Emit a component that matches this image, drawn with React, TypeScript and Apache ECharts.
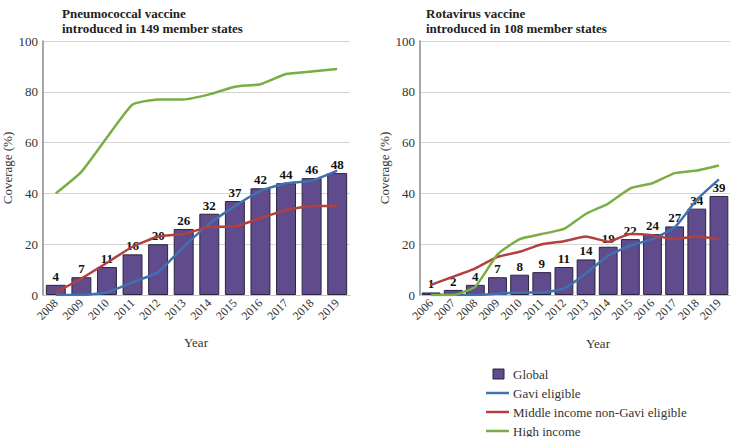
import React, { useEffect, useRef } from "react";
import * as echarts from "echarts";

const pcvYears = ["2008", "2009", "2010", "2011", "2012", "2013", "2014", "2015", "2016", "2017", "2018", "2019"];
const pcvGlobal = [4, 7, 11, 16, 20, 26, 32, 37, 42, 44, 46, 48];
const pcvGavi = [0, 0, 1, 5, 9, 19, 28, 35, 41, 44, 45, 49];
const pcvMiddle = [1, 6.5, 12.7, 19, 23, 24, 26.8, 27, 30.3, 33.5, 35, 35];
const pcvHigh = [40, 48.5, 62, 75, 77, 77, 79, 82, 83, 87, 88, 89];

const rotaYears = ["2006", "2007", "2008", "2009", "2010", "2011", "2012", "2013", "2014", "2015", "2016", "2017", "2018", "2019"];
const rotaGlobal = [1, 2, 4, 7, 8, 9, 11, 14, 19, 22, 24, 27, 34, 39];
const rotaGavi = [0, 0, 0, 0.5, 1, 1, 2.6, 8.5, 15.5, 19.5, 22, 26.6, 37.5, 45.5];
const rotaMiddle = [4, 7.2, 10.5, 15, 17, 20, 21.2, 23, 21, 24, 23.5, 22, 23, 22];
const rotaHigh = [0, 0, 3.3, 16, 22, 24, 26, 32, 36, 42, 44, 48, 49, 51];

const yTicks = [0, 20, 40, 60, 80, 100];

const FONT = "Liberation Serif";
const PURPLE = "#604b8d";
const BLUE = "#3f70b1";
const RED = "#b1403e";
const GREEN = "#79ad45";

const legendItems = [
  { name: "Global", kind: "bar", color: PURPLE },
  { name: "Gavi eligible", kind: "line", color: BLUE },
  { name: "Middle income non-Gavi eligible", kind: "line", color: RED },
  { name: "High income", kind: "line", color: GREEN },
];

export default function App() {
  const ref = useRef<HTMLDivElement>(null);
  useEffect(() => {
    if (!ref.current) return;
    const chart = echarts.init(ref.current, undefined, { renderer: "svg" });

    const mkX = (data: string[], gridIndex: number) => ({
      type: "category",
      gridIndex,
      data,
      axisTick: { show: false },
      axisLine: { show: true, lineStyle: { color: "#c4c4c4" } },
      axisLabel: { rotate: 45, fontFamily: FONT, fontSize: 12, color: "#333", margin: 6, interval: 0 },
    });
    const mkY = (gridIndex: number) => ({
      type: "value",
      gridIndex,
      min: yTicks[0],
      max: yTicks[yTicks.length - 1],
      interval: 20,
      name: "Coverage (%)",
      nameLocation: "middle",
      nameGap: 29,
      nameTextStyle: { fontFamily: FONT, fontSize: 13, color: "#333" },
      axisLine: { show: true, lineStyle: { color: "#8a8a8a", width: 1.5 } },
      axisTick: { show: false },
      axisLabel: { fontFamily: FONT, fontSize: 13, color: "#333", margin: 5 },
      splitLine: { lineStyle: { color: "#d4d4d4" } },
    });
    const mkBar = (data: number[], idx: number, gap: string) => ({
      type: "bar",
      name: "Global",
      xAxisIndex: idx,
      yAxisIndex: idx,
      data,
      barCategoryGap: gap,
      itemStyle: { color: PURPLE, borderColor: "#2b2540", borderWidth: 1 },
      label: { show: true, position: "top", distance: 2, fontFamily: FONT, fontSize: 13, fontWeight: "bold", color: "#111" },
    });
    const mkLine = (name: string, data: number[], idx: number, color: string) => ({
      type: "line",
      name,
      xAxisIndex: idx,
      yAxisIndex: idx,
      data,
      smooth: 0.15,
      symbol: "none",
      lineStyle: { color, width: 2.5 },
      itemStyle: { color },
    });

    const graphics: any[] = [
      { type: "text", x: 196, y: 342, style: { text: "Year", fontFamily: FONT, fontSize: 13, fill: "#333", align: "center", verticalAlign: "middle" } },
      { type: "text", x: 598, y: 343, style: { text: "Year", fontFamily: FONT, fontSize: 13, fill: "#333", align: "center", verticalAlign: "middle" } },
    ];
    legendItems.forEach((it, i) => {
      const cy = [374, 393, 412, 431][i];
      if (it.kind === "bar") {
        graphics.push({ type: "rect", shape: { x: 493, y: cy - 5, width: 11, height: 10 }, style: { fill: it.color, stroke: "#2b2540", lineWidth: 1 } });
      } else {
        graphics.push({ type: "line", shape: { x1: 486, y1: cy, x2: 509, y2: cy }, style: { stroke: it.color, lineWidth: 2.5 } });
      }
      graphics.push({ type: "text", x: 513, y: cy, style: { text: it.name, fontFamily: FONT, fontSize: 13, fill: "#333", verticalAlign: "middle" } });
    });

    chart.setOption({
      animation: false,
      backgroundColor: "#fff",
      title: [
        { text: "Pneumococcal vaccine\nintroduced in 149 member states", left: 57, top: 1, textStyle: { fontFamily: FONT, fontSize: 13, fontWeight: "bold", color: "#222", lineHeight: 15 } },
        { text: "Rotavirus vaccine\nintroduced in 108 member states", left: 421, top: 1, textStyle: { fontFamily: FONT, fontSize: 13, fontWeight: "bold", color: "#222", lineHeight: 15 } },
      ],
      grid: [
        { left: 41, top: 41, width: 309, height: 254, containLabel: false },
        { left: 420, top: 41, width: 310, height: 254, containLabel: false },
      ],
      xAxis: [mkX(pcvYears, 0), mkX(rotaYears, 1)],
      yAxis: [mkY(0), mkY(1)],
      series: [
        mkBar(pcvGlobal, 0, "22%"),
        mkLine("Gavi eligible", pcvGavi, 0, BLUE),
        mkLine("Middle income non-Gavi eligible", pcvMiddle, 0, RED),
        mkLine("High income", pcvHigh, 0, GREEN),
        mkBar(rotaGlobal, 1, "15%"),
        mkLine("Gavi eligible", rotaGavi, 1, BLUE),
        mkLine("Middle income non-Gavi eligible", rotaMiddle, 1, RED),
        mkLine("High income", rotaHigh, 1, GREEN),
      ],
      graphic: graphics,
    });
    return () => chart.dispose();
  }, []);
  return <div ref={ref} style={{ width: 731, height: 437, position: "absolute", left: 0, top: 0 }} />;
}
